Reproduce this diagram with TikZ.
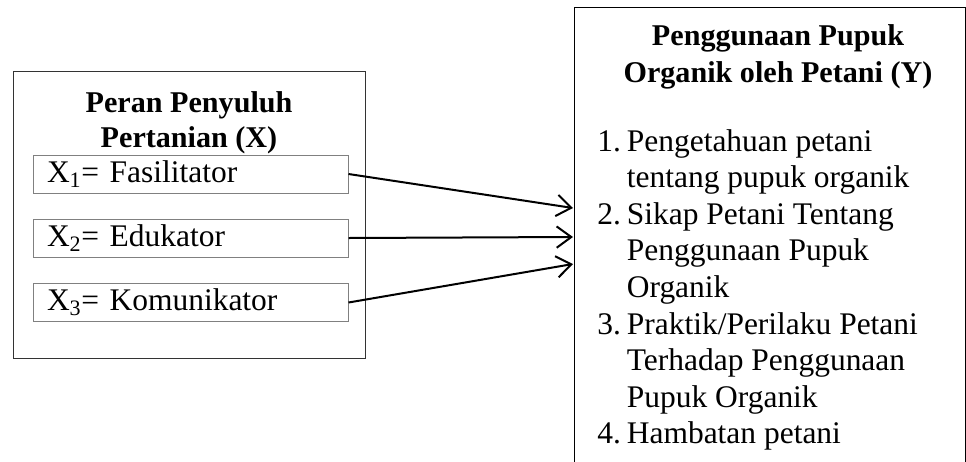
\documentclass[tikz,border=0pt]{standalone}
\usepackage{fontspec}
\setmainfont{Liberation Serif}
\usetikzlibrary{arrows.meta}
\newcommand\bodyfont{\fontsize{23.6}{27.45}\selectfont}
\tikzset{
    itembox/.style={draw=gray, line width=0.75pt, rectangle, minimum width=236.25pt, minimum height=28.5pt,
        text width=215.25pt, align=left, inner xsep=10.5pt, inner ysep=0pt, font=\bodyfont},
    groupbox/.style={draw=black!80, line width=0.75pt, rectangle},
    link/.style={-{Straight Barb[length=11pt,width=16pt]}, line width=1.5pt},
}
\begin{document}
\begin{tikzpicture}[x=0.75pt, y=-0.75pt]
    \useasboundingbox (0,0) rectangle (966,461);
    \clip (0,0) rectangle (966,461);

    % kotak X
    \node (xgroup) [groupbox, minimum width=264pt, minimum height=215.25pt] at (189,214.5) {};
    \node (xtitle) [anchor=base, inner sep=0pt, font=\fontsize{22.6}{26.25}\selectfont\bfseries] at (189,112)
        {\begin{tabular}[t]{@{}c@{}}Peran Penyuluh\\Pertanian (X)\end{tabular}};
    \node (x1) [itembox] at (190.5,174) {X\textsubscript{1}= Fasilitator};
    \node (x2) [itembox] at (190.5,238) {X\textsubscript{2}= Edukator};
    \node (x3) [itembox] at (190.5,302.5) {X\textsubscript{3}= Komunikator};

    % kotak Y
    \node (ygroup) [groupbox, draw=black, minimum width=293.25pt, minimum height=354.75pt] at (769.5,243.5) {};
    \node (ytitle) [anchor=base, inner sep=0pt, font=\fontsize{22.6}{27.75}\selectfont\bfseries] at (778,45)
        {\begin{tabular}[t]{@{}c@{}}Penggunaan Pupuk\\Organik oleh Petani (Y)\end{tabular}};
    \node (ylist) [anchor=base west, inner sep=0pt, font=\bodyfont] at (597,151)
        {\begin{tabular}[t]{@{}l@{\hspace{4.5pt}}l@{}}
            1. & Pengetahuan petani\\
               & tentang pupuk organik\\
            2. & Sikap Petani Tentang\\
               & Penggunaan Pupuk\\
               & Organik\\
            3. & Praktik/Perilaku Petani\\
               & Terhadap Penggunaan\\
               & Pupuk Organik\\
            4. & Hambatan petani
        \end{tabular}};

    \coordinate (yin1) at (573,208);
    \coordinate (yin2) at (573,237);
    \coordinate (yin3) at (573,264);

    \draw[link] (x1.east) -- (yin1);
    \draw[link] (x2.east) -- (yin2);
    \draw[link] (x3.east) -- (yin3);
\end{tikzpicture}
\end{document}
